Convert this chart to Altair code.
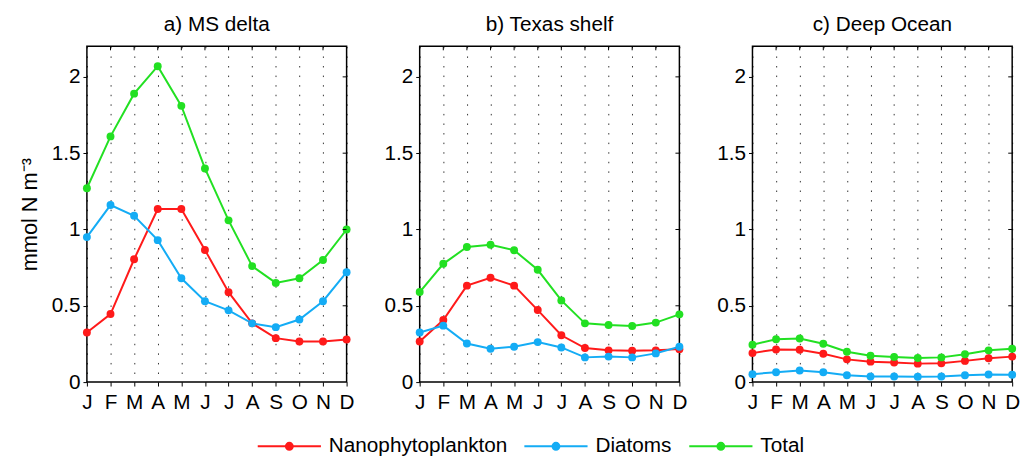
import altair as alt
import pandas as pd

months = list(range(1, 13))
month_labels = ["J", "F", "M", "A", "M", "J", "J", "A", "S", "O", "N", "D"]
series_names = ["Nanophytoplankton", "Diatoms", "Total"]
series_colors = ["#ff1a1a", "#14acf5", "#22e022"]
panel_titles = ["a) MS delta", "b) Texas shelf", "c) Deep Ocean"]
y_ticks = [0, 0.5, 1, 1.5, 2]

# a) MS delta
ms_nano = [0.325, 0.446, 0.805, 1.134, 1.134, 0.866, 0.589, 0.385, 0.288, 0.266, 0.266, 0.279]
ms_diat = [0.95, 1.16, 1.09, 0.93, 0.68, 0.53, 0.47, 0.385, 0.36, 0.41, 0.53, 0.72]
ms_total = [1.27, 1.61, 1.89, 2.07, 1.81, 1.40, 1.06, 0.76, 0.65, 0.68, 0.80, 1.00]
# b) Texas shelf
tx_nano = [0.266, 0.407, 0.632, 0.684, 0.632, 0.472, 0.307, 0.223, 0.208, 0.206, 0.208, 0.216]
tx_diat = [0.325, 0.37, 0.253, 0.219, 0.232, 0.262, 0.227, 0.162, 0.167, 0.162, 0.188, 0.232]
tx_total = [0.59, 0.775, 0.885, 0.90, 0.864, 0.736, 0.535, 0.385, 0.374, 0.368, 0.39, 0.444]
# c) Deep Ocean
do_nano = [0.19, 0.214, 0.212, 0.186, 0.149, 0.134, 0.128, 0.121, 0.123, 0.139, 0.156, 0.167]
do_diat = [0.052, 0.065, 0.076, 0.065, 0.045, 0.037, 0.037, 0.035, 0.037, 0.045, 0.05, 0.048]
do_total = [0.245, 0.281, 0.286, 0.251, 0.199, 0.173, 0.165, 0.158, 0.162, 0.182, 0.208, 0.219]

panels = [
    (panel_titles[0], [ms_nano, ms_diat, ms_total]),
    (panel_titles[1], [tx_nano, tx_diat, tx_total]),
    (panel_titles[2], [do_nano, do_diat, do_total]),
]

FONT = "Liberation Sans"
FS = 21
W, H = 263, 340

label_expr = "[" + ",".join("'" + m + "'" for m in month_labels) + "][datum.value - 1]"

color_scale = alt.Scale(domain=series_names, range=series_colors)

# legend glyph: horizontal line with a dot in the middle (unit square coords)
LEGEND_GLYPH = (
    "M-1,0H1"
    "M0.11,0A0.11,0.11 0 1,1 -0.11,0A0.11,0.11 0 1,1 0.11,0Z"
    "M0.07,0A0.07,0.07 0 1,1 -0.07,0A0.07,0.07 0 1,1 0.07,0Z"
    "M0.03,0A0.03,0.03 0 1,1 -0.03,0A0.03,0.03 0 1,1 0.03,0Z"
)


def make_panel(title, series, idx):
    rows = []
    for name, vals in zip(series_names, series):
        for m, v in zip(months, vals):
            rows.append({"month": m, "value": v, "series": name})
    df = pd.DataFrame(rows)

    x_enc = alt.X(
        "month:Q",
        scale=alt.Scale(domain=[1, 12], nice=False, zero=False),
        axis=alt.Axis(
            values=months, labelExpr=label_expr, title=None, grid=True,
            gridDash=[1.5, 8.2], gridColor="#000000", gridWidth=1, gridOpacity=0.8,
            tickSize=4, tickColor="#000", domain=False, labelFlush=False,
            labelOverlap=False, labelFontSize=FS, labelFont=FONT,
            labelColor="#000", labelPadding=6,
        ),
    )
    y_enc = alt.Y(
        "value:Q",
        scale=alt.Scale(domain=[0, 2.2], nice=False),
        axis=alt.Axis(
            values=y_ticks, format="~g", grid=False, tickSize=4, tickColor="#000",
            domain=False, labelFlush=False, labelOverlap=False, labelFontSize=FS,
            labelFont=FONT, labelColor="#000", labelPadding=3,
            title="mmol N m⁻³" if idx == 0 else None,
            titleFont=FONT, titleFontSize=22, titleFontWeight="normal",
            titleColor="#000", titlePadding=10,
        ),
    )
    legend = alt.Legend(
        title=None, orient="none", direction="horizontal", legendX=172, legendY=372,
        symbolType=LEGEND_GLYPH, symbolSize=4096, symbolStrokeWidth=2,
        labelFont=FONT, labelFontSize=FS, labelLimit=400,
        labelColor="#000", columnPadding=13, labelOffset=7,
    ) if idx == 0 else None
    col_enc = alt.Color("series:N", scale=color_scale, legend=legend, sort=series_names)

    base = alt.Chart(df)
    line = base.mark_line(strokeWidth=2).encode(
        x=x_enc, y=y_enc, color=col_enc, order=alt.Order("month:Q"),
    )
    pts = base.mark_circle(size=64, opacity=1).encode(
        x=x_enc, y=y_enc, color=col_enc,
    )
    right_ticks = alt.Chart(pd.DataFrame({"value": y_ticks[1:]})).mark_rule(
        color="#000", strokeWidth=1).encode(
        y=y_enc, x=alt.value(W - 4), x2=alt.value(W))
    top_ticks = alt.Chart(pd.DataFrame({"month": months[1:-1]})).mark_rule(
        color="#000", strokeWidth=1).encode(
        x=x_enc, y=alt.value(0), y2=alt.value(4))

    return alt.layer(line, pts, right_ticks, top_ticks).properties(
        width=W, height=H,
        title=alt.TitleParams(title, font=FONT, fontSize=FS, fontWeight="normal",
                              color="#000", offset=11),
    )


chart = alt.hconcat(
    *[make_panel(t, s, i) for i, (t, s) in enumerate(panels)], spacing=28
).resolve_scale(color="shared").configure_view(
    stroke="#000", strokeWidth=1.5
).properties(
    padding={"left": 18, "top": 10, "right": 5, "bottom": 5},
    background="white",
)

chart.save("out.html", embed_options={"renderer": "svg", "actions": False})
